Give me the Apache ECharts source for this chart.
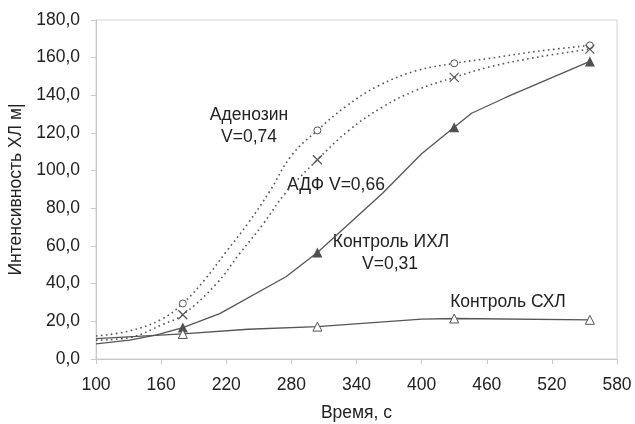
<!DOCTYPE html>
<html>
<head>
<meta charset="utf-8">
<script src="https://cdn.jsdelivr.net/npm/echarts@6/dist/echarts.min.js"></script>
<style>
html,body{margin:0;padding:0;background:#fff;}
#chart{width:635px;height:424px;}
</style>
</head>
<body>
<div id="chart"></div>
<script>
// данные кривых (время, с / интенсивность)
var adenT = [100, 130, 160, 180, 200, 220, 240, 260, 280, 304, 330, 360, 395, 430, 462, 508, 555];
var adenV = [12.2, 14.8, 21.0, 29.5, 42.0, 57.0, 72.0, 89.0, 108.0, 121.4, 134.0, 145.0, 153.0, 157.0, 159.6, 163.5, 166.5];

var adfT = [100, 131, 162, 180, 211, 232, 254, 274, 304, 333, 364, 395, 430, 462, 508, 555];
var adfV = [10.0, 11.4, 18.5, 23.5, 40.0, 55.7, 71.7, 87.7, 105.8, 121.4, 133.8, 142.7, 149.5, 155.0, 160.4, 164.5];

var ihlT = [100, 131, 156, 180, 214, 275, 304, 364, 400, 430, 446, 478, 555];
var ihlV = [8.0, 10.0, 12.8, 16.7, 24.1, 43.7, 56.6, 88.0, 109.0, 123.0, 130.5, 139.0, 158.0];

var shlT = [100, 180, 240, 304, 400, 430, 555];
var shlV = [10.8, 13.3, 15.8, 17.2, 21.2, 21.5, 20.8];

// точки с маркерами
var markT = [180, 304, 430, 555];

var xTicks = [100, 160, 220, 280, 340, 400, 460, 520, 580];
var yTicks = [0, 20, 40, 60, 80, 100, 120, 140, 160, 180];

var font = '"Liberation Sans", Arial, sans-serif';
var fs = 17.5;
var lineCol = '#555';

function build(ts, vs, sym, symStyle){
    return ts.map(function(t, i){
        var on = markT.indexOf(t) >= 0;
        return {
            value: [t, vs[i]],
            symbol: on ? sym : 'none',
            itemStyle: symStyle
        };
    });
}

var chart = echarts.init(document.getElementById('chart'));
chart.setOption({
    animation: false,
    backgroundColor: '#fff',
    textStyle: {fontFamily: font},
    grid: {
        left: 96, right: 18, top: 20, bottom: 65,
        outerBoundsMode: 'none',
        containLabel: false,
        show: true, borderColor: '#d4d4d4', borderWidth: 1
    },
    xAxis: {
        type: 'value',
        min: xTicks[0], max: xTicks[xTicks.length - 1], interval: 60,
        name: 'Время, с',
        nameLocation: 'middle',
        nameGap: 54,
        nameTextStyle: {fontSize: fs, color: '#222', fontFamily: font, verticalAlign: 'middle'},
        axisLine: {lineStyle: {color: '#c8c8c8', width: 1}},
        axisTick: {show: true, inside: false, length: 5, lineStyle: {color: '#c8c8c8'}},
        axisLabel: {fontSize: fs, color: '#222', margin: 17, fontFamily: font},
        splitLine: {show: false}
    },
    yAxis: {
        type: 'value',
        min: yTicks[0], max: yTicks[yTicks.length - 1], interval: 20,
        name: 'Интенсивность ХЛ м|',
        nameLocation: 'middle',
        nameGap: 70,
        nameTextStyle: {fontSize: fs, color: '#222', fontFamily: font, verticalAlign: 'middle'},
        axisLine: {show: true, lineStyle: {color: '#c8c8c8', width: 1}},
        axisTick: {show: true, inside: false, length: 5, lineStyle: {color: '#c8c8c8'}},
        axisLabel: {
            fontSize: fs, color: '#222', margin: 16, fontFamily: font,
            formatter: function(v){ return v.toFixed(1).replace('.', ','); }
        },
        splitLine: {show: false}
    },
    series: [
        {
            name: 'Аденозин',
            type: 'line',
            smooth: 0.4,
            showAllSymbol: true,
            symbolSize: 7,
            lineStyle: {color: lineCol, width: 1.6, type: [1.6, 3.4]},
            data: build(adenT, adenV, 'circle', {color: '#fff', borderColor: lineCol, borderWidth: 1})
        },
        {
            name: 'АДФ',
            type: 'line',
            smooth: 0.4,
            showAllSymbol: true,
            symbolSize: 9,
            lineStyle: {color: lineCol, width: 1.6, type: [1.6, 3.4]},
            data: build(adfT, adfV, 'path://M0,0L10,10M10,0L0,10', {color: 'none', borderColor: lineCol, borderWidth: 1.2})
        },
        {
            name: 'Контроль ИХЛ',
            type: 'line',
            smooth: false,
            showAllSymbol: true,
            symbolSize: 10,
            lineStyle: {color: lineCol, width: 1.3},
            data: build(ihlT, ihlV, 'triangle', {color: '#505050', borderColor: '#505050', borderWidth: 0})
        },
        {
            name: 'Контроль СХЛ',
            type: 'line',
            smooth: false,
            showAllSymbol: true,
            symbolSize: 9,
            lineStyle: {color: lineCol, width: 1.3},
            data: build(shlT, shlV, 'triangle', {color: '#fff', borderColor: lineCol, borderWidth: 1})
        }
    ],
    graphic: [
        {type: 'text', x: 249, y: 115, style: {text: 'Аденозин', font: fs + 'px ' + font, fill: '#222', align: 'center', verticalAlign: 'middle'}},
        {type: 'text', x: 249, y: 137, style: {text: 'V=0,74', font: fs + 'px ' + font, fill: '#222', align: 'center', verticalAlign: 'middle'}},
        {type: 'text', x: 336, y: 185, style: {text: 'АДФ V=0,66', font: fs + 'px ' + font, fill: '#222', align: 'center', verticalAlign: 'middle'}},
        {type: 'text', x: 391, y: 242, style: {text: 'Контроль ИХЛ', font: fs + 'px ' + font, fill: '#222', align: 'center', verticalAlign: 'middle'}},
        {type: 'text', x: 390, y: 264, style: {text: 'V=0,31', font: fs + 'px ' + font, fill: '#222', align: 'center', verticalAlign: 'middle'}},
        {type: 'text', x: 508, y: 302, style: {text: 'Контроль СХЛ', font: fs + 'px ' + font, fill: '#222', align: 'center', verticalAlign: 'middle'}}
    ]
});
</script>
</body>
</html>
